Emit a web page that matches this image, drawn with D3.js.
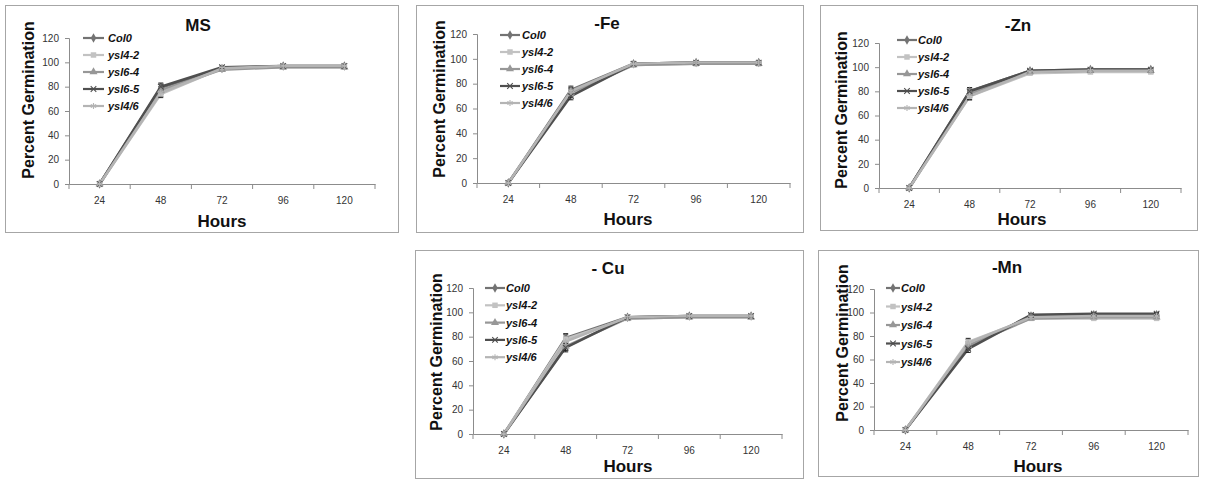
<!DOCTYPE html>
<html><head><meta charset="utf-8">
<script src="https://cdn.jsdelivr.net/npm/d3@7"></script>
<style>
body{margin:0;background:#fff;}
svg{display:block;font-family:"Liberation Sans",Arial,sans-serif;}
</style></head>
<body>
<svg id="c" width="1205" height="483"></svg>
<script>
// ---- data ----
const hours = ["24","48","72","96","120"];
const seriesNames = ["Col0","ysl4-2","ysl6-4","ysl6-5","ysl4/6"];
const yTicks = [0,20,40,60,80,100,120];

const msCol0  = [0,79,95,97,97];
const msYsl42 = [0,74,95,96,96];
const msYsl64 = [0,77,94,96,96];
const msYsl65 = [0,80,96,97,97];
const msYsl46 = [0,75,95,97,97];
const msErr   = [0,3,1,1,1];

const feCol0  = [0,75,96,97,97];
const feYsl42 = [0,72,95,96,96];
const feYsl64 = [0,73,95,96,96];
const feYsl65 = [0,70,96,97,97];
const feYsl46 = [0,74,96,97,97];
const feErr   = [0,3,1,1,1];

const znCol0  = [0,80,97,98,98];
const znYsl42 = [0,76,95,96,96];
const znYsl64 = [0,78,96,97,97];
const znYsl65 = [0,80,97,98,98];
const znYsl46 = [0,76,96,97,97];
const znErr   = [0,3,1,1,1];

const cuCol0  = [0,79,96,97,97];
const cuYsl42 = [0,78,95,96,96];
const cuYsl64 = [0,72,95,96,96];
const cuYsl65 = [0,71,96,97,97];
const cuYsl46 = [0,76,96,97,97];
const cuErr   = [0,3.5,1,1,1];

const mnCol0  = [0,71,97,98,98];
const mnYsl42 = [0,75,95,95,95];
const mnYsl64 = [0,72,95,96,96];
const mnYsl65 = [0,69,98,99,99];
const mnYsl46 = [0,74,96,97,97];
const mnErr   = [0,3,1,1,1];

const panelTitles = ["MS","-Fe","-Zn","- Cu","-Mn"];
const panelData = [
  [msCol0,msYsl42,msYsl64,msYsl65,msYsl46],
  [feCol0,feYsl42,feYsl64,feYsl65,feYsl46],
  [znCol0,znYsl42,znYsl64,znYsl65,znYsl46],
  [cuCol0,cuYsl42,cuYsl64,cuYsl65,cuYsl46],
  [mnCol0,mnYsl42,mnYsl64,mnYsl65,mnYsl46]
];
const panelErr = [msErr,feErr,znErr,cuErr,mnErr];

// ---- layout & style ----
const layouts = [
  {fx:5,fy:5,fw:393,fh:227,x0:69,x1:375,yT:38,yB:184,tx:198,ty:31,lx:83,ll:21,ltx:108,ly:38,ldy:17,ylx:34,yly:100,hx:222,hy:227},
  {fx:416,fy:5,fw:387,fh:227,x0:477,x1:790,yT:34,yB:183,tx:607,ty:29,lx:500,ll:20,ltx:522,ly:35,ldy:17,ylx:445,yly:99,hx:628,hy:225},
  {fx:820,fy:5,fw:377,fh:225,x0:879,x1:1181,yT:43,yB:188,tx:1018,ty:31,lx:897,ll:20,ltx:918,ly:40,ldy:17,ylx:847,yly:110,hx:1022,hy:225},
  {fx:415,fy:250,fw:388,fh:228,x0:473,x1:782,yT:288,yB:434,tx:608,ty:274,lx:485,ll:20,ltx:506,ly:288,ldy:17.3,ylx:442,yly:352,hx:628,hy:472},
  {fx:818,fy:250,fw:380,fh:226,x0:874,x1:1188,yT:289,yB:430,tx:1007,ty:273,lx:886,ll:14,ltx:901,ly:288,ldy:18.5,ylx:848,yly:343,hx:1038,hy:472}
];
const colors = ["#737373","#c2c2c2","#979797","#4f4f4f","#b4b4b4"];
const symbols = [d3.symbolDiamond, d3.symbolSquare, d3.symbolTriangle, d3.symbolTimes, d3.symbolAsterisk];
const symSizes = [26, 30, 28, 22, 26];
const stroked = [false,false,false,true,true];

const svg = d3.select("#c");

function marker(g, i, x, y){
  const p = g.append("path")
    .attr("d", d3.symbol().type(symbols[i]).size(symSizes[i])())
    .attr("transform", `translate(${x},${y})`);
  if(stroked[i]) p.attr("fill","none").attr("stroke",colors[i]).attr("stroke-width",1.1);
  else p.attr("fill",colors[i]);
}

panelData.forEach((data, pi) => {
  const L = layouts[pi];
  const g = svg.append("g");
  g.append("rect").attr("x",L.fx+0.5).attr("y",L.fy+0.5).attr("width",L.fw).attr("height",L.fh)
    .attr("fill","#fff").attr("stroke","#a6a6a6").attr("stroke-width",1);

  const x = d3.scaleBand().domain(hours).range([L.x0,L.x1]);
  const y = d3.scaleLinear().domain([0,120]).range([L.yB,L.yT]);
  const cx = h => x(h) + x.bandwidth()/2;

  // y axis
  const ya = g.append("g").attr("transform",`translate(${L.x0},0)`)
    .call(d3.axisLeft(y).tickValues(yTicks).tickSize(4).tickPadding(6));
  ya.select(".domain").attr("stroke","#8c8c8c");
  ya.selectAll(".tick line").attr("stroke","#8c8c8c");
  ya.selectAll("text").attr("font-size",10).attr("fill","#333").attr("font-family","Liberation Sans, Arial, sans-serif");

  // x axis
  const xa = g.append("g").attr("transform",`translate(0,${L.yB})`)
    .call(d3.axisBottom(x).tickSize(0).tickPadding(13).tickSizeOuter(0));
  xa.select(".domain").attr("stroke","#8c8c8c");
  xa.selectAll("text").attr("font-size",10).attr("fill","#333").attr("font-family","Liberation Sans, Arial, sans-serif");
  const bounds = hours.map(h => x(h)).concat([x(hours[hours.length-1]) + x.bandwidth()]);
  xa.selectAll("line.bt").data(bounds).join("line").attr("class","bt")
    .attr("x1",d=>d).attr("x2",d=>d).attr("y1",0).attr("y2",5).attr("stroke","#8c8c8c");

  // series lines
  const line = d3.line().x((d,i)=>cx(hours[i])).y(d=>y(d));
  data.forEach((vals, si) => {
    g.append("path").attr("d", line(vals)).attr("fill","none")
      .attr("stroke", colors[si]).attr("stroke-width", 2.6).attr("stroke-linejoin","round");
  });
  // error bars
  data.forEach((vals, si) => {
    vals.forEach((v, i) => {
      const e = panelErr[pi][i];
      if(!e) return;
      const xx = cx(hours[i]);
      g.append("line").attr("x1",xx).attr("x2",xx).attr("y1",y(v-e)).attr("y2",y(v+e)).attr("stroke","#222").attr("stroke-width",1);
      [v-e, v+e].forEach(t => g.append("line").attr("x1",xx-2.5).attr("x2",xx+2.5).attr("y1",y(t)).attr("y2",y(t)).attr("stroke","#222").attr("stroke-width",1));
    });
  });
  // markers
  data.forEach((vals, si) => {
    vals.forEach((v, i) => marker(g, si, cx(hours[i]), y(v)));
  });

  // title
  g.append("text").attr("x",L.tx).attr("y",L.ty).attr("text-anchor","middle")
    .attr("font-size",17).attr("font-weight","bold").attr("fill","#111").text(panelTitles[pi]);
  // y label
  g.append("text").attr("transform",`translate(${L.ylx},${L.yly}) rotate(-90)`).attr("text-anchor","middle")
    .attr("font-size",16).attr("font-weight","bold").attr("fill","#111").text("Percent Germination");
  // x label
  g.append("text").attr("x",L.hx).attr("y",L.hy).attr("text-anchor","middle")
    .attr("font-size",17).attr("font-weight","bold").attr("fill","#111").text("Hours");

  // legend
  seriesNames.forEach((n, si) => {
    const yy = L.ly + si*L.ldy;
    g.append("line").attr("x1",L.lx).attr("x2",L.lx+L.ll).attr("y1",yy).attr("y2",yy)
      .attr("stroke",colors[si]).attr("stroke-width",2.2);
    marker(g, si, L.lx+L.ll/2, yy);
    g.append("text").attr("x",L.ltx).attr("y",yy+4).attr("font-size",11)
      .attr("font-weight","bold").attr("font-style","italic").attr("fill","#111").text(n);
  });
});
</script>
</body></html>
